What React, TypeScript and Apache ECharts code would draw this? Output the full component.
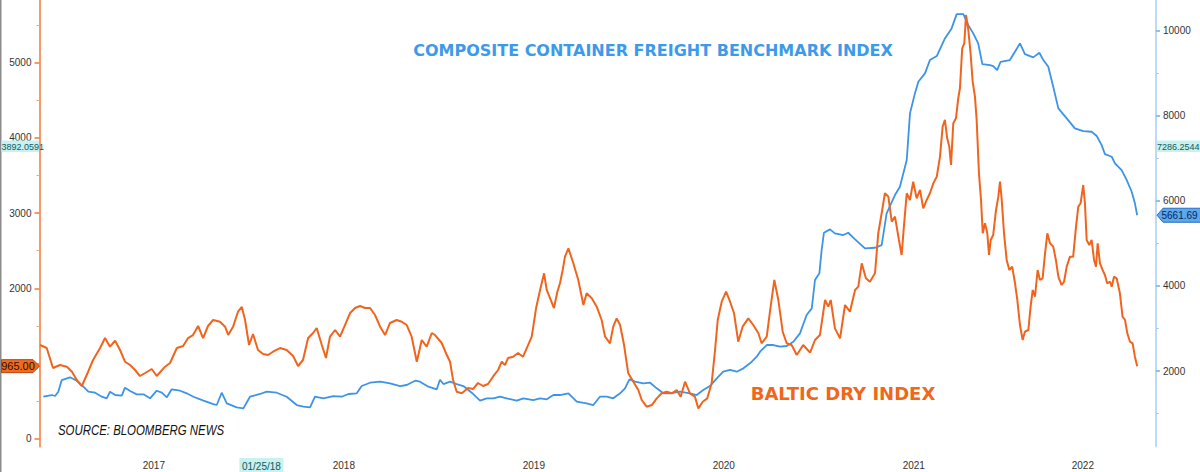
import React, { useEffect, useRef } from "react";
import * as echarts from "echarts";

// Baltic Dry Index (left axis) — decimal-year positions and values
const bdiYears = [
  2016.901, 2016.936, 2016.969, 2017.006, 2017.042, 2017.069, 2017.094, 2017.121, 2017.154, 2017.18, 2017.217, 2017.243, 2017.269, 2017.296, 2017.322, 2017.348, 2017.375, 2017.401, 2017.427, 2017.454, 2017.489, 2017.515, 2017.559, 2017.585, 2017.621, 2017.654, 2017.68, 2017.706, 2017.733, 2017.759, 2017.785, 2017.812, 2017.848, 2017.875, 2017.891, 2017.917, 2017.943, 2017.963, 2017.98,
  2018.001, 2018.022, 2018.048, 2018.075, 2018.101, 2018.127, 2018.164, 2018.199, 2018.233, 2018.259, 2018.285, 2018.312, 2018.338, 2018.357, 2018.384, 2018.406, 2018.427, 2018.454, 2018.48, 2018.506, 2018.533, 2018.559, 2018.585, 2018.612, 2018.638, 2018.664, 2018.691, 2018.717, 2018.743, 2018.778, 2018.805, 2018.831, 2018.857, 2018.884, 2018.91, 2018.936, 2018.963, 2018.98,
  2019.015, 2019.042, 2019.059, 2019.075, 2019.094, 2019.121, 2019.154, 2019.18, 2019.206, 2019.233, 2019.259, 2019.285, 2019.312, 2019.331, 2019.348, 2019.364, 2019.391, 2019.417, 2019.443, 2019.463, 2019.489, 2019.512, 2019.533, 2019.554, 2019.568, 2019.589, 2019.606, 2019.624, 2019.638, 2019.652, 2019.664, 2019.682, 2019.708, 2019.734, 2019.761, 2019.778, 2019.805, 2019.831, 2019.857, 2019.875, 2019.901, 2019.918, 2019.936, 2019.954, 2019.975,
  2019.997, 2020.024, 2020.05, 2020.068, 2020.094, 2020.121, 2020.147, 2020.173, 2020.199, 2020.226, 2020.252, 2020.273, 2020.296, 2020.322, 2020.348, 2020.366, 2020.389, 2020.413, 2020.436, 2020.454, 2020.468, 2020.489, 2020.512, 2020.533, 2020.554, 2020.576, 2020.599, 2020.629, 2020.655, 2020.682, 2020.699, 2020.726, 2020.743, 2020.766, 2020.787, 2020.81, 2020.831, 2020.857, 2020.884, 2020.918, 2020.954, 2020.98,
  2021.006, 2021.033, 2021.05, 2021.063, 2021.085, 2021.112, 2021.138, 2021.164, 2021.191, 2021.208, 2021.226, 2021.248, 2021.269, 2021.296, 2021.313, 2021.331, 2021.348, 2021.366, 2021.384, 2021.401, 2021.422, 2021.436, 2021.448, 2021.463, 2021.48, 2021.497, 2021.515, 2021.533, 2021.55, 2021.568, 2021.585, 2021.603, 2021.621, 2021.638, 2021.652, 2021.664, 2021.676, 2021.687, 2021.696, 2021.708, 2021.722, 2021.734, 2021.743, 2021.755, 2021.766, 2021.775, 2021.787, 2021.799, 2021.81, 2021.822, 2021.831, 2021.843, 2021.854, 2021.863, 2021.875, 2021.887, 2021.896, 2021.905, 2021.918, 2021.933, 2021.945, 2021.954, 2021.963, 2021.975, 2021.989,
  2022.003, 2022.018, 2022.033, 2022.045, 2022.059, 2022.073, 2022.085, 2022.103, 2022.115, 2022.126, 2022.138, 2022.152, 2022.164, 2022.178, 2022.191, 2022.203, 2022.217, 2022.234, 2022.248, 2022.261, 2022.278, 2022.291, 2022.305, 2022.322, 2022.339, 2022.354, 2022.366, 2022.378, 2022.392, 2022.401, 2022.41, 2022.424, 2022.436, 2022.449, 2022.459, 2022.468, 2022.48, 2022.494, 2022.506, 2022.518, 2022.533, 2022.542, 2022.554, 2022.568, 2022.585, 2022.599, 2022.612, 2022.624, 2022.638, 2022.652, 2022.664, 2022.676,
];
const bdiValues = [
  1246, 1206, 940, 980, 958, 891, 781, 701, 891, 1047, 1206, 1339, 1224, 1303, 1180, 1024, 980, 914, 834, 874, 927, 834, 958, 1007, 1206, 1233, 1339, 1379, 1499, 1339, 1499, 1579, 1556, 1490, 1379, 1490, 1689, 1752, 1579,
  1246, 1393, 1180, 1127, 1113, 1157, 1206, 1180, 1100, 967, 1047, 1339, 1406, 1472, 1246, 1073, 1357, 1446, 1357, 1512, 1672, 1738, 1765, 1738, 1738, 1645, 1490, 1379, 1539, 1579, 1556, 1512, 1357, 1024, 1313, 1224, 1406, 1379,
  1273, 1113, 1024, 781, 625, 604, 674, 661, 741, 701, 728, 825, 914, 1024, 980, 1073, 1091, 1140, 1091, 1206, 1357, 1738, 1978, 2200, 1978, 1845, 1738, 1955, 2071, 2244, 2421, 2532, 2333, 2111, 1778, 1934, 1867, 1756, 1579, 1357, 1269, 1490, 1601, 1512, 1246,
  870, 758, 648, 515, 426, 448, 537, 604, 625, 604, 648, 559, 758, 604, 559, 404, 492, 537, 737, 1180, 1579, 1822, 1955, 1822, 1668, 1290, 1490, 1601, 1512, 1402, 1269, 1357, 1689, 2111, 1845, 1423, 1269, 1246, 1113, 1246, 1144, 1313,
  1379, 1845, 1756, 1845, 1468, 1335, 1778, 1689, 1978, 2022, 2333, 2133, 2088, 2200, 2732, 2998, 3264, 3219, 2886, 2953, 2643, 2443, 2820, 3264, 3175, 3418, 3197, 3308, 3064, 3175, 3264, 3397, 3485, 3751, 4150, 4239, 3995, 3884, 3640, 4195, 4261, 4527, 4660, 5192, 5259, 5635, 5436, 5126, 4748, 4549, 4239, 3530, 3175, 2732, 2865, 2732, 2443, 2643, 2709, 3042, 3219, 3418, 3175, 2732, 2377,
  2244, 2288, 2067, 1845, 1512, 1313, 1423, 1446, 1756, 1978, 1889, 2244, 2111, 2133, 2466, 2732, 2599, 2554, 2377, 2155, 2044, 2088, 2288, 2421, 2421, 2820, 3086, 3131, 3374, 3131, 2643, 2576, 2643, 2377, 2288, 2599, 2333, 2244, 2177, 2067, 2088, 2022, 2155, 2133, 1934, 1623, 1579, 1402, 1290, 1269, 1091, 965,
];

// Composite container freight benchmark (right axis)
const wciYears = [
  2016.918, 2016.963, 2016.98, 2016.997, 2017.015, 2017.059, 2017.094, 2017.129, 2017.155, 2017.191, 2017.226, 2017.252, 2017.269, 2017.296, 2017.331, 2017.348, 2017.375, 2017.41, 2017.445, 2017.48, 2017.515, 2017.542, 2017.568, 2017.594, 2017.638, 2017.673, 2017.708, 2017.761, 2017.813, 2017.831, 2017.857, 2017.884, 2017.936, 2017.971,
  2018.006, 2018.059, 2018.094, 2018.147, 2018.199, 2018.252, 2018.287, 2018.322, 2018.348, 2018.392, 2018.445, 2018.489, 2018.524, 2018.568, 2018.594, 2018.638, 2018.691, 2018.743, 2018.796, 2018.831, 2018.875, 2018.901, 2018.945, 2018.989,
  2019.006, 2019.024, 2019.059, 2019.094, 2019.129, 2019.173, 2019.217, 2019.252, 2019.287, 2019.322, 2019.357, 2019.41, 2019.445, 2019.497, 2019.533, 2019.568, 2019.603, 2019.638, 2019.682, 2019.726, 2019.778, 2019.813, 2019.848, 2019.884, 2019.918, 2019.954, 2019.98,
  2020.003, 2020.033, 2020.076, 2020.112, 2020.147, 2020.182, 2020.217, 2020.269, 2020.322, 2020.357, 2020.392, 2020.427, 2020.463, 2020.497, 2020.533, 2020.568, 2020.603, 2020.638, 2020.673, 2020.691, 2020.726, 2020.761, 2020.796, 2020.831, 2020.866, 2020.901, 2020.936, 2020.963, 2020.98,
  2021.003, 2021.015, 2021.027, 2021.059, 2021.085, 2021.129, 2021.155, 2021.191, 2021.243, 2021.296, 2021.331, 2021.357, 2021.401, 2021.427, 2021.463, 2021.48, 2021.506, 2021.524, 2021.559, 2021.585, 2021.621, 2021.664, 2021.699, 2021.726, 2021.761, 2021.787, 2021.813, 2021.839, 2021.861, 2021.901, 2021.918, 2021.939, 2021.957,
  2022.006, 2022.059, 2022.085, 2022.129, 2022.161, 2022.182, 2022.208, 2022.234, 2022.261, 2022.305, 2022.348, 2022.392, 2022.436, 2022.463, 2022.489, 2022.506, 2022.542, 2022.559, 2022.594, 2022.621, 2022.647, 2022.664, 2022.676,
];
const wciValues = [
  1396, 1436, 1413, 1514, 1788, 1852, 1772, 1631, 1514, 1490, 1396, 1358, 1514, 1436, 1420, 1608, 1530, 1452, 1452, 1358, 1537, 1490, 1382, 1570, 1537, 1476, 1396, 1302, 1224, 1201, 1490, 1241, 1147, 1123,
  1396, 1460, 1514, 1490, 1396, 1201, 1161, 1147, 1396, 1358, 1412, 1396, 1460, 1476, 1647, 1725, 1749, 1711, 1647, 1671, 1772, 1749, 1631, 1570,
  1796, 1694, 1749, 1694, 1647, 1490, 1302, 1358, 1358, 1396, 1358, 1302, 1358, 1318, 1358, 1335, 1436, 1436, 1476, 1279, 1241, 1201, 1396, 1396, 1358, 1476, 1593,
  1805, 1749, 1711, 1725, 1593, 1476, 1476, 1514, 1476, 1436, 1553, 1647, 1828, 1984, 2024, 1984, 2063, 2181, 2336, 2454, 2611, 2611, 2571, 2588, 2689, 2886, 3316, 3473, 4139,
  4296, 4844, 5250, 5330, 5236, 5196, 5250, 5095, 4883, 4898, 4961, 5706, 6136, 6331, 6959, 8056, 8526, 8799, 8996, 9309, 9403, 9818, 10053, 10390, 10390, 10131, 9936, 9701, 9215, 9191, 9168, 9074, 9269,
  9309, 9701, 9450, 9372, 9480, 9309, 9151, 8681, 8173, 7938, 7703, 7640, 7624, 7523, 7311, 7100, 7036, 6881, 6724, 6489, 6214, 5941, 5662,
];

// Axis ticks / labels (the 1000 label is hidden under the last-value tag in the source)
const yearLabelAt = [2017.5, 2018.5, 2019.5, 2020.5, 2021.5, 2022.39];
const leftTicks = [0, 1000, 2000, 3000, 4000, 5000];
const leftLabels = [0, 2000, 3000, 4000, 5000];
const leftMinorTicks = [500, 1500, 2500, 3500, 4500, 5500];
const rightTicks = [2000, 4000, 6000, 8000, 10000];
const rightMinorTicks = [1000, 3000, 5000, 7000, 9000];

// Annotation values
const bdiLast = 965.0;
const wciLast = 5661.69;
const crossLeft = 3892.0591;
const crossRight = 7286.2544;
const crossDate = 2018.066;

const SANS = "'Liberation Sans', Arial, sans-serif";
const ORANGE = "#f0641e";
const BLUE = "#3d94e6";

function zip(a: number[], b: number[]) {
  const n = Math.min(a.length, b.length);
  const out: number[][] = [];
  for (let i = 0; i < n; i++) out.push([a[i], b[i]]);
  return out;
}

export default function App() {
  const ref = useRef<HTMLDivElement>(null);
  useEffect(() => {
    if (!ref.current) return;
    const chart = echarts.init(ref.current, null, { renderer: "svg" });
    const tickLabel = { color: "#333", fontSize: 10, fontFamily: SANS };
    const plain = (v: number) => String(Math.round(v));
    chart.setOption({
      animation: false,
      backgroundColor: "#fff",
      grid: { left: 39.5, right: 44, top: 0, bottom: 25.3, containLabel: false, outerBoundsMode: "none" },
      xAxis: {
        type: "value",
        min: 2016.898,
        max: 2022.775,
        axisLine: { show: false },
        axisTick: { show: false },
        splitLine: { show: false },
        axisLabel: {
          ...tickLabel,
          margin: 14,
          customValues: yearLabelAt,
          formatter: (v: number) => String(Math.floor(v + 1e-6)),
        },
      },
      yAxis: [
        {
          type: "value", position: "left", min: -106, max: 5834,
          axisLine: { show: true, lineStyle: { color: "#f07a34", width: 1.5 } },
          axisTick: { show: true, customValues: leftTicks, length: 5, lineStyle: { color: "#f07a34", width: 1.5 } },
          axisLabel: { ...tickLabel, margin: 8, customValues: leftLabels, formatter: plain },
          splitLine: { show: false },
        },
        {
          type: "value", position: "left", min: -106, max: 5834,
          axisLine: { show: false },
          axisTick: { show: true, customValues: leftMinorTicks, length: 3, lineStyle: { color: "#f3a57a", width: 1 } },
          axisLabel: { show: false },
          splitLine: { show: false },
        },
        {
          type: "value", position: "right", min: 221, max: 10721,
          axisLine: { show: true, lineStyle: { color: "#a8cdf0", width: 1.5 } },
          axisTick: { show: true, customValues: rightTicks, length: 4, lineStyle: { color: "#6faee8", width: 1.5 } },
          axisLabel: { ...tickLabel, margin: 7, customValues: rightTicks, formatter: plain },
          splitLine: { show: false },
        },
        {
          type: "value", position: "right", min: 221, max: 10721,
          axisLine: { show: false },
          axisTick: { show: true, customValues: rightMinorTicks, length: 3, lineStyle: { color: "#a8cdf0", width: 1 } },
          axisLabel: { show: false },
          splitLine: { show: false },
        },
      ],
      series: [
        {
          name: "Composite Container Freight Benchmark",
          type: "line",
          yAxisIndex: 2,
          data: zip(wciYears, wciValues),
          showSymbol: false,
          lineStyle: { color: BLUE, width: 1.8 },
          itemStyle: { color: BLUE },
        },
        {
          name: "Baltic Dry Index",
          type: "line",
          yAxisIndex: 0,
          data: zip(bdiYears, bdiValues),
          showSymbol: false,
          lineStyle: { color: ORANGE, width: 2 },
          itemStyle: { color: ORANGE },
        },
      ],
    });

    const yL = (v: number) => chart.convertToPixel({ yAxisIndex: 0 }, v) as number;
    const yR = (v: number) => chart.convertToPixel({ yAxisIndex: 2 }, v) as number;
    const xT = (t: number) => chart.convertToPixel({ xAxisIndex: 0 }, t) as number;

    const yb = yL(bdiLast);
    const yw = yR(wciLast);
    const ycl = yL(crossLeft);
    const ycr = yR(crossRight);
    const xd = xT(crossDate);
    const axL = xT(2016.898);
    const axR = xT(2022.775);
    const Z = 100;

    chart.setOption({
      graphic: [
        { type: "line", z: Z, shape: { x1: 0.75, y1: 0, x2: 0.75, y2: 472 }, style: { stroke: "#8c8c8c", lineWidth: 1.5 } },
        {
          type: "text", z: Z, x: 653, y: 50,
          style: { text: "COMPOSITE CONTAINER FREIGHT BENCHMARK INDEX", fill: "#3d9aea", font: "bold 16px 'DejaVu Sans', sans-serif", textAlign: "center", textVerticalAlign: "middle" },
        },
        {
          type: "text", z: Z, x: 843, y: 393,
          style: { text: "BALTIC DRY INDEX", fill: "#f0661a", font: "bold 18px 'DejaVu Sans', sans-serif", textAlign: "center", textVerticalAlign: "middle" },
        },
        {
          type: "text", z: Z, x: 58, y: 430, scaleX: 0.815,
          style: { text: "SOURCE: BLOOMBERG NEWS", fill: "#111", font: `italic 14px ${SANS}`, textAlign: "left", textVerticalAlign: "middle" },
        },
        // crosshair value labels
        { type: "rect", z: Z, shape: { x: 1.5, y: ycl - 5.5, width: axL - 2, height: 11.5 }, style: { fill: "#c8f1ef" } },
        { type: "text", z: Z + 1, x: 1.5, y: ycl + 0.5, style: { text: "3892.0591", fill: "#0e5a60", font: `9px ${SANS}`, textAlign: "left", textVerticalAlign: "middle" } },
        { type: "rect", z: Z, shape: { x: axR + 0.8, y: ycr - 5.5, width: 46, height: 11.5 }, style: { fill: "#c8f1ef" } },
        { type: "text", z: Z + 1, x: axR + 1, y: ycr + 0.5, style: { text: "7286.2544", fill: "#0e5a60", font: `9px ${SANS}`, textAlign: "left", textVerticalAlign: "middle" } },
        { type: "rect", z: Z, shape: { x: xd - 22, y: 458, width: 44, height: 14 }, style: { fill: "#c8f1ef" } },
        { type: "text", z: Z + 1, x: xd, y: 466, style: { text: "01/25/18", fill: "#0e5a60", font: `10px ${SANS}`, textAlign: "center", textVerticalAlign: "middle" } },
        // last value tags
        {
          type: "polygon", z: Z,
          shape: { points: [[1.5, yb - 6.5], [33, yb - 6.5], [axL, yb], [33, yb + 6.5], [1.5, yb + 6.5]] },
          style: { fill: "#f26a1e", stroke: "#b9470f", lineWidth: 1 },
        },
        { type: "text", z: Z + 1, x: 18, y: yb, style: { text: "965.00", fill: "#2a1000", font: `11px ${SANS}`, textAlign: "center", textVerticalAlign: "middle" } },
        {
          type: "polygon", z: Z,
          shape: { points: [[axR + 1, yw], [axR + 7, yw - 7], [1202, yw - 7], [1202, yw + 7], [axR + 7, yw + 7]] },
          style: { fill: "#5aa8f0", stroke: "#2a6cc0", lineWidth: 1 },
        },
        { type: "text", z: Z + 1, x: axR + 5.5, y: yw, style: { text: "5661.69", fill: "#0b2757", font: `10px ${SANS}`, textAlign: "left", textVerticalAlign: "middle" } },
      ],
    });

    return () => chart.dispose();
  }, []);

  return (
    <div
      ref={ref}
      style={{ position: "absolute", left: 0, top: 0, width: 1200, height: 472, background: "#fff" }}
    />
  );
}
